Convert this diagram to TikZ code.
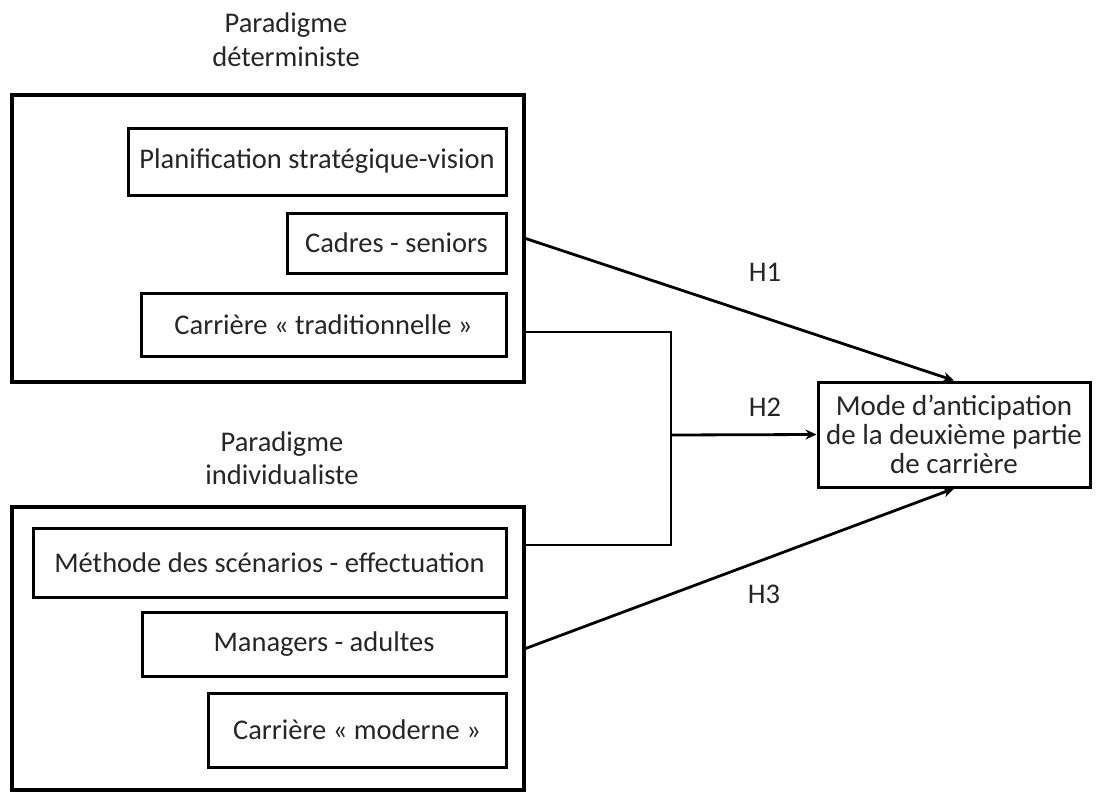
\documentclass[tikz,border=0pt]{standalone}
\usepackage{fontspec}
\setmainfont{Carlito}
\usetikzlibrary{arrows.meta,calc}
\definecolor{txt}{HTML}{262626}
\begin{document}
\begin{tikzpicture}[x=1pt,y=-1pt,
  frame/.style={draw=black,line width=3.2pt,inner sep=0pt,anchor=center},
  itembox/.style={draw=black,line width=3pt,inner sep=0pt,anchor=center,text=txt,
    font=\fontsize{28.5}{34}\selectfont},
  lbl/.style={text=txt,font=\fontsize{28.5}{34}\selectfont,inner sep=0pt,align=center},
  conn/.style={line width=2.8pt,line join=miter},
  arr/.style={conn,-{Stealth[length=11pt,width=10pt]}}]
\useasboundingbox (0,0) rectangle (1098,792);
% titles
\node[lbl,font=\fontsize{28.5}{34}\selectfont] (t1) at (286,40) {Paradigme\\déterministe};
\node[lbl,font=\fontsize{28.5}{33}\selectfont] (t2) at (282,458.5) {Paradigme\\individualiste};
% outer frames
\node[frame,minimum width=512,minimum height=287] (outer1) at (268,238.5) {};
\node[frame,minimum width=512,minimum height=283] (outer2) at (268,648.5) {};
% inner boxes
\node[itembox,minimum width=378,minimum height=67] (planif) at (317,161.5) {Planification stratégique-vision};
\node[itembox,minimum width=219,minimum height=60] (cadres) at (396.5,243) {Cadres - seniors};
\node[itembox,minimum width=365,minimum height=63] (trad) at (323.5,324.5) {Carrière « traditionnelle »};
\node[itembox,minimum width=473,minimum height=69] (methode) at (269.5,562.5) {Méthode des scénarios - effectuation};
\node[itembox,minimum width=364,minimum height=64] (managers) at (324,644) {Managers - adultes};
\node[itembox,minimum width=298,minimum height=74] (moderne) at (357,730) {Carrière « moderne »};
% target
\node[itembox,minimum width=272,minimum height=105,align=center,
  font=\fontsize{29}{29}\selectfont] (target) at (954,434.5)
  {Mode d’anticipation\\de la deuxième partie\\de carrière};
% connectors
\coordinate (a1) at (524,332);
\coordinate (a2) at (671,332);
\coordinate (a3) at (671,545);
\coordinate (a4) at (524,545);
\coordinate (am) at (671,435);
\draw[conn] (a1) -- (a2) -- (a3) -- (a4);
\draw[arr] (am) -- (target.west);
\draw[arr] (outer1.east) -- (target.north);
\draw[arr] (outer2.east) -- (target.south);
% labels
\node[lbl] (h1) at (765,272) {H1};
\node[lbl] (h2) at (765,407) {H2};
\node[lbl] (h3) at (764,594) {H3};
\end{tikzpicture}
\end{document}
